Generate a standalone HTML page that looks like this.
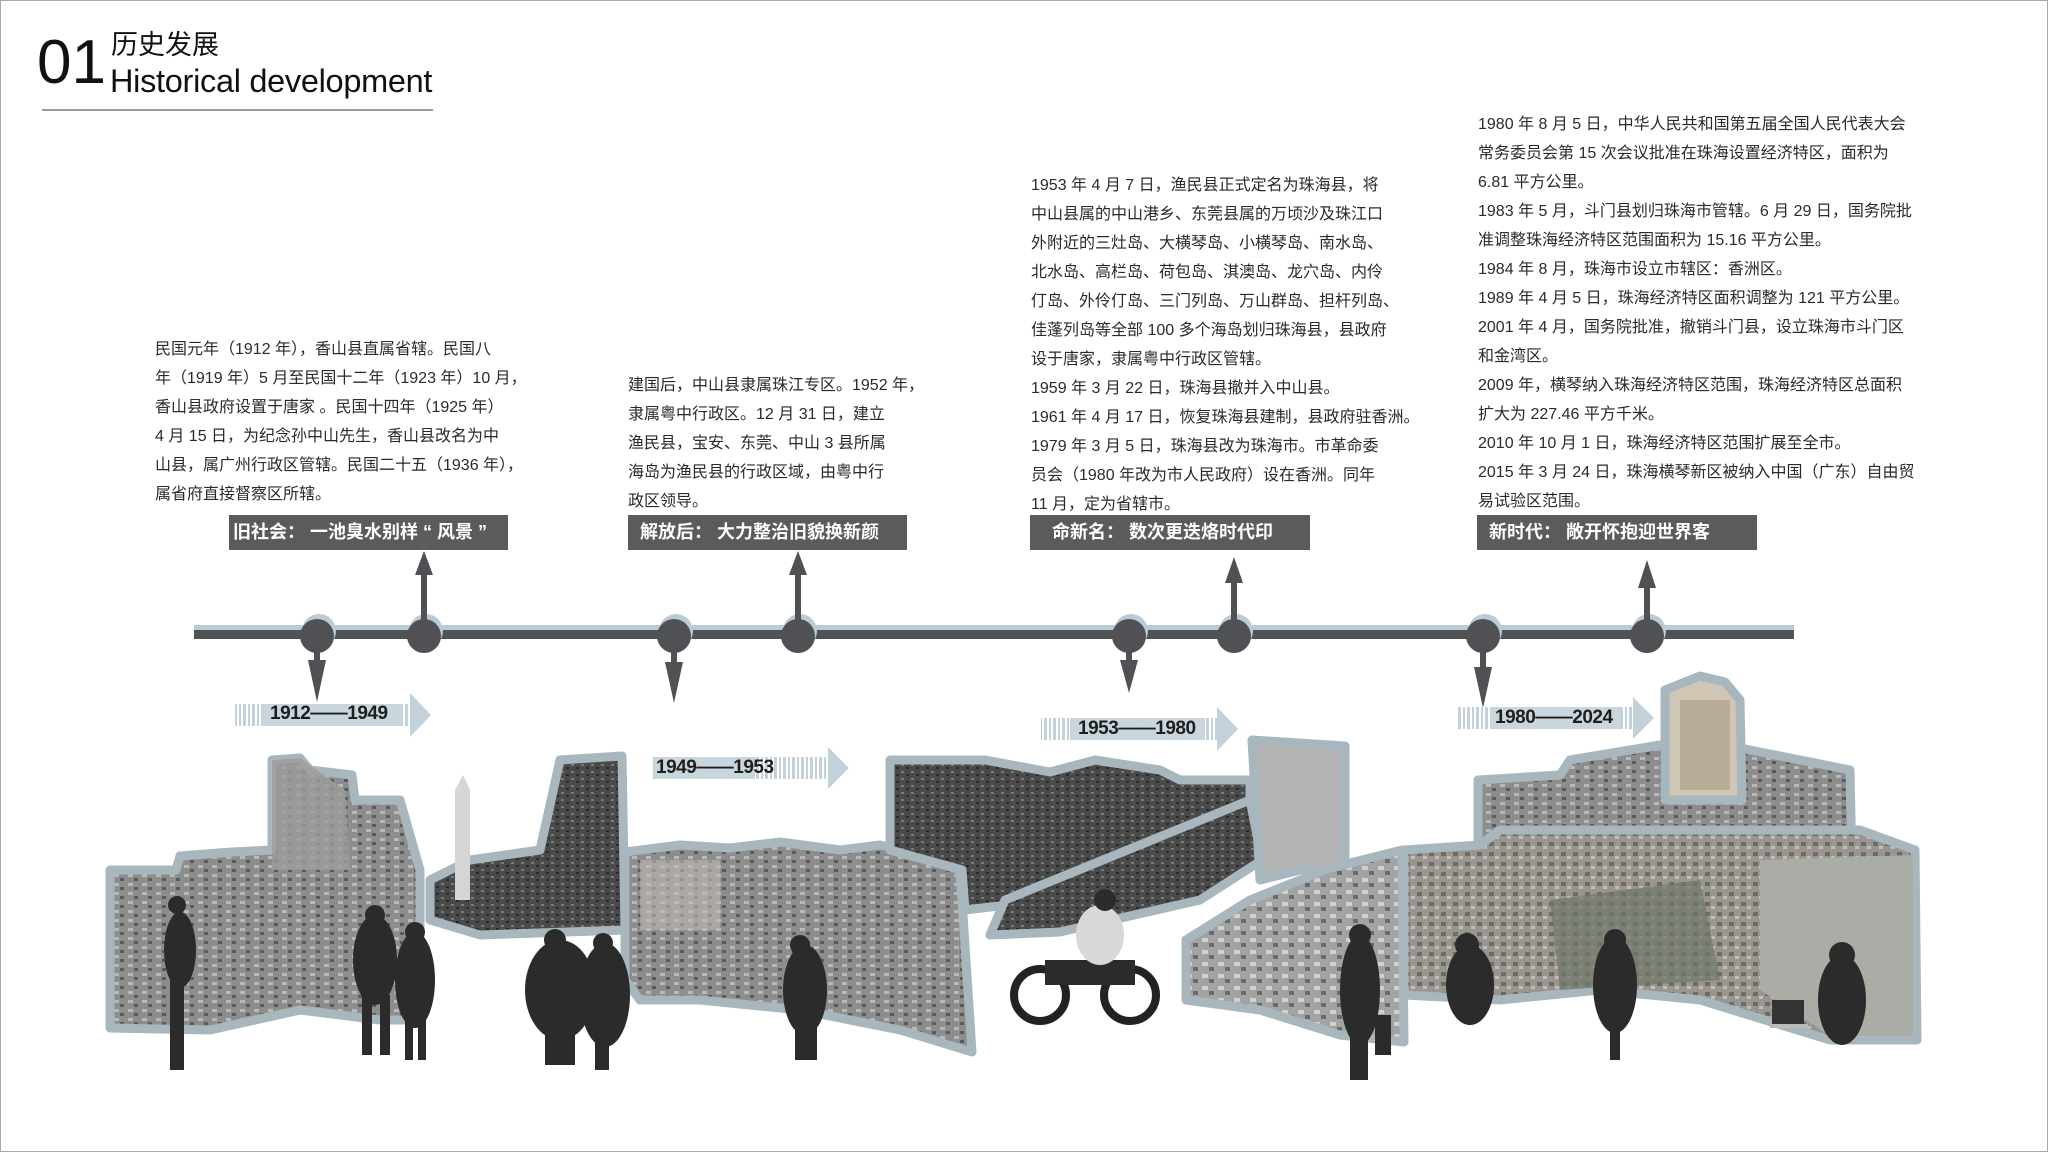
<!DOCTYPE html>
<html><head><meta charset="utf-8">
<style>
html,body{margin:0;padding:0;background:#fff;}
#c{position:relative;width:2048px;height:1152px;overflow:hidden;background:#fff;font-family:"Liberation Sans","Noto Sans CJK SC",sans-serif;}
.frame{position:absolute;left:0;top:0;width:2046px;height:1150px;border:1px solid #a8a8a8;}
.t{position:absolute;color:#2a2a2a;font-size:16px;line-height:29px;white-space:nowrap;font-family:"Liberation Sans","Noto Sans CJK SC",sans-serif;}
.box{position:absolute;top:515px;height:35px;background:#5b5b5b;color:#fff;font-weight:bold;font-size:18px;line-height:35px;white-space:nowrap;}
.dt{position:absolute;font-size:19px;font-weight:bold;color:#1e1e1e;white-space:nowrap;letter-spacing:-0.5px;}
</style></head><body>
<div id="c">
<div class="frame"></div>
<div style="position:absolute;left:37px;top:28px;font-size:62px;line-height:70px;color:#111;font-family:'Liberation Sans',sans-serif;">01</div>
<div style="position:absolute;left:111px;top:29px;font-size:27px;line-height:32px;color:#111;font-family:'Liberation Sans','Noto Sans CJK SC',sans-serif;">历史发展</div>
<div style="position:absolute;left:110px;top:63px;font-size:32.5px;line-height:36px;color:#111;font-family:'Liberation Sans',sans-serif;letter-spacing:-0.3px;">Historical development</div>
<div style="position:absolute;left:42px;top:109px;width:391px;height:2px;background:#9a9a9a;"></div>

<div class="t" style="left:155px;top:335px;">民国元年（1912 年），香山县直属省辖。民国八<br>年（1919 年）5 月至民国十二年（1923 年）10 月，<br>香山县政府设置于唐家 。民国十四年（1925 年）<br>4 月 15 日，为纪念孙中山先生，香山县改名为中<br>山县，属广州行政区管辖。民国二十五（1936 年），<br>属省府直接督察区所辖。</div>

<div class="t" style="left:628px;top:371px;">建国后，中山县隶属珠江专区。1952 年，<br>隶属粤中行政区。12 月 31 日，建立<br>渔民县，宝安、东莞、中山 3 县所属<br>海岛为渔民县的行政区域，由粤中行<br>政区领导。</div>

<div class="t" style="left:1031px;top:171px;">1953 年 4 月 7 日，渔民县正式定名为珠海县，将<br>中山县属的中山港乡、东莞县属的万顷沙及珠江口<br>外附近的三灶岛、大横琴岛、小横琴岛、南水岛、<br>北水岛、高栏岛、荷包岛、淇澳岛、龙穴岛、内伶<br>仃岛、外伶仃岛、三门列岛、万山群岛、担杆列岛、<br>佳蓬列岛等全部 100 多个海岛划归珠海县，县政府<br>设于唐家，隶属粤中行政区管辖。<br>1959 年 3 月 22 日，珠海县撤并入中山县。<br>1961 年 4 月 17 日，恢复珠海县建制，县政府驻香洲。<br>1979 年 3 月 5 日，珠海县改为珠海市。市革命委<br>员会（1980 年改为市人民政府）设在香洲。同年<br>11 月，定为省辖市。</div>

<div class="t" style="left:1478px;top:110px;">1980 年 8 月 5 日，中华人民共和国第五届全国人民代表大会<br>常务委员会第 15 次会议批准在珠海设置经济特区，面积为<br>6.81 平方公里。<br>1983 年 5 月，斗门县划归珠海市管辖。6 月 29 日，国务院批<br>准调整珠海经济特区范围面积为 15.16 平方公里。<br>1984 年 8 月，珠海市设立市辖区：香洲区。<br>1989 年 4 月 5 日，珠海经济特区面积调整为 121 平方公里。<br>2001 年 4 月，国务院批准，撤销斗门县，设立珠海市斗门区<br>和金湾区。<br>2009 年，横琴纳入珠海经济特区范围，珠海经济特区总面积<br>扩大为 227.46 平方千米。<br>2010 年 10 月 1 日，珠海经济特区范围扩展至全市。<br>2015 年 3 月 24 日，珠海横琴新区被纳入中国（广东）自由贸<br>易试验区范围。</div>

<div class="box" style="left:229px;width:279px;padding-left:4px;box-sizing:border-box;">旧社会： 一池臭水别样 “ 风景 ”</div>
<div class="box" style="left:628px;width:279px;padding-left:12px;box-sizing:border-box;">解放后： 大力整治旧貌换新颜</div>
<div class="box" style="left:1030px;width:280px;padding-left:22px;box-sizing:border-box;">命新名： 数次更迭烙时代印</div>
<div class="box" style="left:1477px;width:280px;padding-left:12px;box-sizing:border-box;">新时代： 敞开怀抱迎世界客</div>

<svg width="2048" height="1152" style="position:absolute;left:0;top:0;" xmlns="http://www.w3.org/2000/svg">
<defs>
<pattern id="bar" width="9" height="10" patternUnits="userSpaceOnUse">
<rect width="9" height="10" fill="#fff"/><rect x="0" width="3" height="10" fill="#c3d1da"/><rect x="5" width="2" height="10" fill="#c3d1da"/>
</pattern>
<pattern id="tex1" width="14" height="9" patternUnits="userSpaceOnUse">
<rect width="14" height="9" fill="#8d8d8d"/><rect x="2" y="1" width="5" height="3" fill="#b9b9b9"/><rect x="8" y="5" width="4" height="3" fill="#5a5a5a"/>
</pattern>
<pattern id="tex2" width="10" height="7" patternUnits="userSpaceOnUse">
<rect width="10" height="7" fill="#4a4a4a"/><rect x="1" y="1" width="3" height="2" fill="#7a7a7a"/><rect x="6" y="4" width="3" height="2" fill="#2a2a2a"/>
</pattern>
<pattern id="tex3" width="12" height="10" patternUnits="userSpaceOnUse">
<rect width="12" height="10" fill="#9a9590"/><rect x="1" y="2" width="5" height="4" fill="#6b6e5e"/><rect x="7" y="6" width="4" height="3" fill="#c2bdb5"/>
</pattern>
<pattern id="tex4" width="16" height="12" patternUnits="userSpaceOnUse">
<rect width="16" height="12" fill="#a3a3a3"/><rect x="2" y="2" width="6" height="4" fill="#d0d0d0"/><rect x="9" y="7" width="5" height="4" fill="#6a6a6a"/>
</pattern>
</defs>

<!-- timeline -->
<rect x="194" y="625" width="1600" height="6" fill="#b9cbd6"/>
<rect x="194" y="630" width="1600" height="9" fill="#505356"/>
<g fill="#b9cbd6">
<circle cx="319" cy="631" r="17"/><circle cx="426" cy="631" r="17"/><circle cx="676" cy="631" r="17"/><circle cx="800" cy="631" r="17"/>
<circle cx="1131" cy="631" r="17"/><circle cx="1236" cy="631" r="17"/><circle cx="1485" cy="631" r="17"/><circle cx="1649" cy="631" r="17"/>
</g>
<g fill="#4f5154">
<circle cx="317" cy="636" r="17"/><circle cx="424" cy="636" r="17"/><circle cx="674" cy="636" r="17"/><circle cx="798" cy="636" r="17"/>
<circle cx="1129" cy="636" r="17"/><circle cx="1234" cy="636" r="17"/><circle cx="1483" cy="636" r="17"/><circle cx="1647" cy="636" r="17"/>
</g>
<g fill="#4f5154">
<rect x="421" y="570" width="6" height="60"/><polygon points="415,575 433,575 424,551"/>
<rect x="795" y="570" width="6" height="60"/><polygon points="789,575 807,575 798,551"/>
<rect x="1231" y="580" width="6" height="50"/><polygon points="1225,583 1243,583 1234,557"/>
<rect x="1644" y="585" width="6" height="45"/><polygon points="1638,588 1656,588 1647,560"/>
<rect x="314" y="640" width="6" height="22"/><polygon points="308,660 326,660 317,702"/>
<rect x="671" y="640" width="6" height="22"/><polygon points="665,662 683,662 674,703"/>
<rect x="1126" y="640" width="6" height="22"/><polygon points="1120,660 1138,660 1129,693"/>
<rect x="1480" y="640" width="6" height="28"/><polygon points="1474,667 1492,667 1483,708"/>
</g>

<!-- date arrows -->
<g>
<rect x="235" y="704" width="178" height="22" fill="url(#bar)"/><rect x="262" y="704" width="140" height="22" fill="#c9d6de"/><polygon points="410,693 431,715 410,737" fill="#c3d1da"/>
<rect x="652" y="757" width="178" height="22" fill="url(#bar)"/><rect x="655" y="757" width="100" height="22" fill="#c9d6de"/><polygon points="828,747 849,768 828,789" fill="#c3d1da"/>
<rect x="1041" y="718" width="178" height="22" fill="url(#bar)"/><rect x="1070" y="718" width="135" height="22" fill="#c9d6de"/><polygon points="1217,707 1238,729 1217,751" fill="#c3d1da"/>
<rect x="1457" y="707" width="178" height="22" fill="url(#bar)"/><rect x="1490" y="707" width="130" height="22" fill="#c9d6de"/><polygon points="1633,697 1654,718 1633,739" fill="#c3d1da"/>
</g>

<g stroke="#a8b6be" stroke-width="9" stroke-linejoin="round">
<!-- old street -->
<polygon points="110,870 176,870 180,856 232,852 272,850 272,760 300,758 310,770 352,775 355,800 400,800 420,870 420,1020 380,1020 300,1010 210,1030 110,1028" fill="url(#tex1)"/>
<!-- tower/trees -->
<polygon points="430,880 470,860 540,850 560,760 622,756 625,930 480,935 430,920" fill="url(#tex2)"/>
<!-- 1949-53 square -->
<polygon points="625,852 680,845 730,848 780,842 840,850 880,845 900,850 960,870 972,1052 900,1030 800,1010 700,1000 640,1000 625,980" fill="url(#tex1)"/>
<!-- 1953 crowd -->
<polygon points="890,760 985,760 1050,772 1095,760 1160,770 1180,780 1250,780 1250,820 1150,880 1050,900 965,910 962,870 890,850" fill="url(#tex2)"/>
<polygon points="1005,900 1250,800 1262,860 1200,900 1060,932 990,935" fill="url(#tex2)"/>
<polygon points="1252,740 1345,746 1345,870 1300,870 1260,880" fill="#b4b4b4"/>
<!-- building street -->
<polygon points="1186,940 1250,900 1330,868 1402,850 1404,1042 1340,1035 1260,1010 1186,1000" fill="url(#tex4)"/>
<!-- modern -->
<polygon points="1478,780 1560,775 1570,760 1660,745 1690,760 1700,740 1850,770 1852,870 1478,870" fill="url(#tex1)"/>
<polygon points="1404,850 1480,845 1500,830 1860,830 1915,850 1917,1040 1830,1040 1700,1000 1600,990 1500,1000 1404,995" fill="url(#tex3)"/>
<polygon points="1665,690 1700,676 1725,682 1740,700 1742,800 1665,800" fill="#cfc6b6"/>
</g>
<polygon points="455,790 463,775 470,790 470,900 455,900" fill="#d6d6d6"/>
<polygon points="272,760 300,758 345,790 350,870 272,870" fill="#9c9c9c" opacity="0.8"/>
<polygon points="640,860 720,860 720,930 640,930" fill="#bfbab3" opacity="0.6"/>
<polygon points="1680,700 1730,700 1730,790 1680,790" fill="#b9ad98"/>
<polygon points="1760,860 1913,855 1913,1036 1830,1036 1760,990" fill="#a9ada5"/>
<polygon points="1550,900 1700,880 1720,980 1560,990" fill="#6f7868" opacity="0.7"/>

<!-- people silhouettes -->
<g fill="#2b2b2b">
<ellipse cx="180" cy="950" rx="16" ry="38"/><circle cx="177" cy="905" r="9"/><rect x="170" y="980" width="14" height="90"/>
<ellipse cx="375" cy="960" rx="22" ry="45"/><circle cx="375" cy="915" r="10"/><rect x="362" y="995" width="10" height="60"/><rect x="380" y="995" width="10" height="60"/>
<ellipse cx="415" cy="980" rx="20" ry="48"/><circle cx="415" cy="932" r="10"/><rect x="405" y="1010" width="8" height="50"/><rect x="418" y="1010" width="8" height="50"/>
<ellipse cx="560" cy="990" rx="35" ry="50"/><circle cx="555" cy="940" r="11"/><rect x="545" y="1020" width="30" height="45"/>
<ellipse cx="605" cy="995" rx="25" ry="52"/><circle cx="603" cy="943" r="10"/><rect x="595" y="1030" width="14" height="40"/>
<ellipse cx="805" cy="990" rx="22" ry="45"/><circle cx="800" cy="945" r="10"/><rect x="795" y="1020" width="22" height="40"/>
<circle cx="1040" cy="995" r="26" fill="none" stroke="#222" stroke-width="8"/><circle cx="1130" cy="995" r="26" fill="none" stroke="#222" stroke-width="8"/>
<rect x="1045" y="960" width="90" height="25"/><ellipse cx="1100" cy="935" rx="24" ry="30" fill="#d8d8d8"/><circle cx="1105" cy="900" r="11"/>
<ellipse cx="1360" cy="990" rx="20" ry="55"/><circle cx="1360" cy="935" r="11"/><rect x="1350" y="1030" width="18" height="50"/><rect x="1375" y="1015" width="16" height="40"/>
<ellipse cx="1470" cy="985" rx="24" ry="40"/><circle cx="1467" cy="945" r="12"/>
<ellipse cx="1615" cy="985" rx="22" ry="48"/><circle cx="1615" cy="940" r="11"/><rect x="1610" y="1020" width="10" height="40"/>
<ellipse cx="1842" cy="1000" rx="24" ry="45"/><circle cx="1842" cy="955" r="13"/>
<rect x="1772" y="1000" width="32" height="24" fill="#333"/><rect x="1770" y="1024" width="38" height="4" fill="#bbb"/>
</g>
</svg>

<div class="dt" style="left:270px;top:703px;">1912——1949</div>
<div class="dt" style="left:656px;top:757px;">1949——1953</div>
<div class="dt" style="left:1078px;top:718px;">1953——1980</div>
<div class="dt" style="left:1495px;top:707px;">1980——2024</div>
</div>
</body></html>
